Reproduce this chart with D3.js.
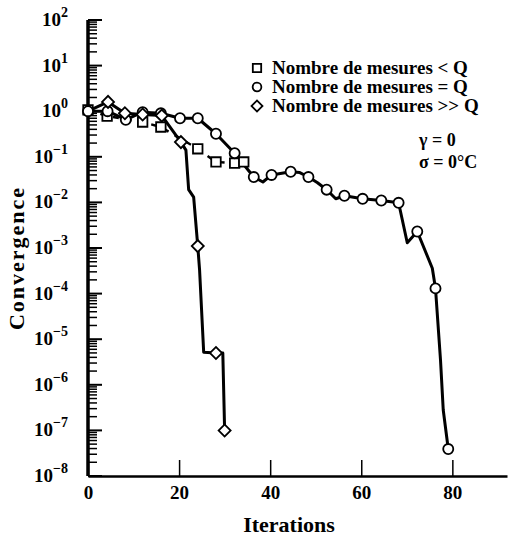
<!DOCTYPE html>
<html>
<head>
<meta charset="utf-8">
<script src="https://cdn.jsdelivr.net/npm/d3@7"></script>
<style>
  body { margin: 0; background: #fff; }
  svg { display: block; }
  text { font-family: "Liberation Serif", "Times New Roman", serif; font-weight: bold; fill: #000; }
</style>
</head>
<body>
<div id="chart"></div>
<script>
// tick values
var xTicks = [0, 20, 40, 60, 80];
var yDecades = [-8, -7, -6, -5, -4, -3, -2, -1, 0, 1, 2];

// series: Nombre de mesures < Q (squares)
var sqIter = [0, 4.2, 12, 16, 24.1, 28.1, 32.2, 34.2];
var sqConv = [1.07, 0.78, 0.58, 0.45, 0.15, 0.077, 0.073, 0.077];

// series: Nombre de mesures = Q (circles), markers + line
var ciIter = [0, 4.3, 8.3, 12, 16, 20.2, 24.1, 28.1, 32.2, 36.4, 40.3, 44.5, 48.4, 52.4, 56.3, 60.3, 64.4, 68.2, 72.3, 76.3, 79.1];
var ciConv = [1.0, 1.0, 0.65, 0.95, 0.9, 0.7, 0.7, 0.32, 0.12, 0.036, 0.04, 0.047, 0.036, 0.019, 0.014, 0.012, 0.011, 0.0098, 0.0023, 1.3e-4, 3.9e-8];
var ciLineIter = [0, 4.3, 8.3, 12, 16, 20.2, 24.1, 28.1, 32.2, 36.4, 38.4, 40.3, 44.5, 46.5, 48.4, 50.4, 52.4, 54.4, 56.3, 60.3, 64.4, 68.2, 70.1, 72.3, 75.6, 76.3, 77.4, 78.0, 79.1];
var ciLineConv = [1.0, 1.0, 0.65, 0.95, 0.9, 0.7, 0.7, 0.32, 0.12, 0.036, 0.028, 0.04, 0.047, 0.045, 0.036, 0.027, 0.019, 0.012, 0.014, 0.012, 0.011, 0.0098, 0.0013, 0.0023, 3.6e-4, 1.3e-4, 3.5e-6, 2.8e-7, 3.9e-8];

// series: Nombre de mesures >> Q (diamonds), markers + line
var diIter = [4.4, 8.1, 12, 16.2, 20.4, 24.1, 28.1, 30];
var diConv = [1.6, 0.9, 0.85, 0.8, 0.21, 1.1e-3, 5e-6, 1e-7];
var diLineIter = [0, 4.4, 8.1, 12, 16.2, 20.4, 21.5, 22.1, 23.2, 24.1, 24.5, 25.4, 28.1, 29.6, 30];
var diLineConv = [1.0, 1.6, 0.9, 0.85, 0.8, 0.21, 0.14, 0.019, 0.013, 1.1e-3, 3.3e-4, 5.2e-6, 5e-6, 5e-6, 1e-7];

var legendLabels = ["Nombre de mesures < Q", "Nombre de mesures = Q", "Nombre de mesures >> Q"];
var noteLines = ["\u03b3 = 0", "\u03c3 = 0\u00b0C"];

var width = 509, height = 544;

var x = d3.scaleLinear().domain([0, 92]).range([88, 507]);
var y = d3.scaleLog().domain([1e-8, 1e2]).range([476, 20]);

var svg = d3.select("#chart").append("svg")
  .attr("width", width)
  .attr("height", height);

function zip(a, b) {
  return a.map(function(d, i) { return [d, b[i]]; });
}

var line = d3.line()
  .x(function(d) { return x(d[0]); })
  .y(function(d) { return y(d[1]); });

// x axis
var xAxis = svg.append("g")
  .attr("transform", "translate(0," + y(1e-8) + ")")
  .call(d3.axisBottom(x).tickValues(xTicks).tickSizeInner(-16).tickSizeOuter(0).tickPadding(10));
xAxis.select(".domain").attr("stroke-width", 2.5);
xAxis.selectAll(".tick line").attr("stroke-width", 1.5);
xAxis.selectAll(".tick text")
  .attr("font-size", 19)
  .attr("font-family", "Liberation Serif")
  .attr("font-weight", "bold");

// y axis (log, ticks pointing inward)
var yAxis = svg.append("g");
yAxis.append("line")
  .attr("x1", x(0)).attr("x2", x(0))
  .attr("y1", y(1e2)).attr("y2", y(1e-8))
  .attr("stroke", "#000").attr("stroke-width", 3.5);

var minor = [];
yDecades.forEach(function(p) {
  if (p < 2) {
    for (var m = 2; m <= 9; m++) minor.push(m * Math.pow(10, p));
  }
});
yAxis.selectAll(".minor").data(minor).enter().append("line")
  .attr("class", "minor")
  .attr("x1", x(0)).attr("x2", x(0) + 9)
  .attr("y1", function(d) { return y(d); })
  .attr("y2", function(d) { return y(d); })
  .attr("stroke", "#000").attr("stroke-width", 1.5);

yAxis.selectAll(".major").data(yDecades).enter().append("line")
  .attr("class", "major")
  .attr("x1", x(0)).attr("x2", x(0) + 14)
  .attr("y1", function(d) { return y(Math.pow(10, d)); })
  .attr("y2", function(d) { return y(Math.pow(10, d)); })
  .attr("stroke", "#000").attr("stroke-width", 2);

var yLab = yAxis.selectAll(".ylab").data(yDecades).enter().append("text")
  .attr("class", "ylab")
  .attr("x", 68)
  .attr("y", function(d) { return y(Math.pow(10, d)) + 6; })
  .attr("text-anchor", "end")
  .attr("font-size", 19);
yLab.append("tspan").text("10");
yLab.append("tspan")
  .attr("dy", -9)
  .attr("font-size", 14)
  .text(function(d) { return d < 0 ? "\u2212" + (-d) : String(d); });

// axis titles
svg.append("text")
  .attr("x", 289).attr("y", 532)
  .attr("text-anchor", "middle")
  .attr("font-size", 22)
  .text("Iterations");

svg.append("text")
  .attr("transform", "translate(24,258) rotate(-90)")
  .attr("text-anchor", "middle")
  .attr("font-size", 22)
  .attr("letter-spacing", 2)
  .text("Convergence");

// lines
svg.append("path")
  .datum(zip(sqIter, sqConv))
  .attr("d", line)
  .attr("fill", "none").attr("stroke", "#000")
  .attr("stroke-width", 2.5)
  .attr("stroke-dasharray", "6,7");

svg.append("path")
  .datum(zip(ciLineIter, ciLineConv))
  .attr("d", line)
  .attr("fill", "none").attr("stroke", "#000")
  .attr("stroke-width", 3)
  .attr("stroke-linejoin", "round");

svg.append("path")
  .datum(zip(diLineIter, diLineConv))
  .attr("d", line)
  .attr("fill", "none").attr("stroke", "#000")
  .attr("stroke-width", 3)
  .attr("stroke-linejoin", "round");

// markers (diamond = square turned 45 degrees)
var sq = d3.symbol().type(d3.symbolSquare).size(90);
var ci = d3.symbol().type(d3.symbolCircle).size(80);
var di = d3.symbol().type(d3.symbolSquare).size(72);

function markers(data, sym, cls, rot) {
  svg.selectAll("." + cls).data(data).enter().append("path")
    .attr("class", cls)
    .attr("transform", function(d) {
      return "translate(" + x(d[0]) + "," + y(d[1]) + ")" + (rot ? " rotate(45)" : "");
    })
    .attr("d", sym)
    .attr("fill", "#fff").attr("stroke", "#000").attr("stroke-width", 1.8);
}
markers(zip(sqIter, sqConv), sq, "sq", false);
markers(zip(ciIter, ciConv), ci, "ci", false);
markers(zip(diIter, diConv), di, "di", true);

// legend
var legend = svg.append("g");
var legSyms = [d3.symbol().type(d3.symbolSquare).size(70), d3.symbol().type(d3.symbolCircle).size(60), d3.symbol().type(d3.symbolSquare).size(60)];
legendLabels.forEach(function(lab, i) {
  var cy = 68 + i * 19;
  legend.append("path")
    .attr("transform", "translate(257," + cy + ")" + (i === 2 ? " rotate(45)" : ""))
    .attr("d", legSyms[i])
    .attr("fill", "#fff").attr("stroke", "#000").attr("stroke-width", 1.8);
  legend.append("text")
    .attr("x", 272).attr("y", cy + 6)
    .attr("font-size", 19)
    .text(lab);
});

noteLines.forEach(function(t, i) {
  svg.append("text")
    .attr("x", 419).attr("y", 146 + i * 22)
    .attr("font-size", 18)
    .text(t);
});
</script>
</body>
</html>
